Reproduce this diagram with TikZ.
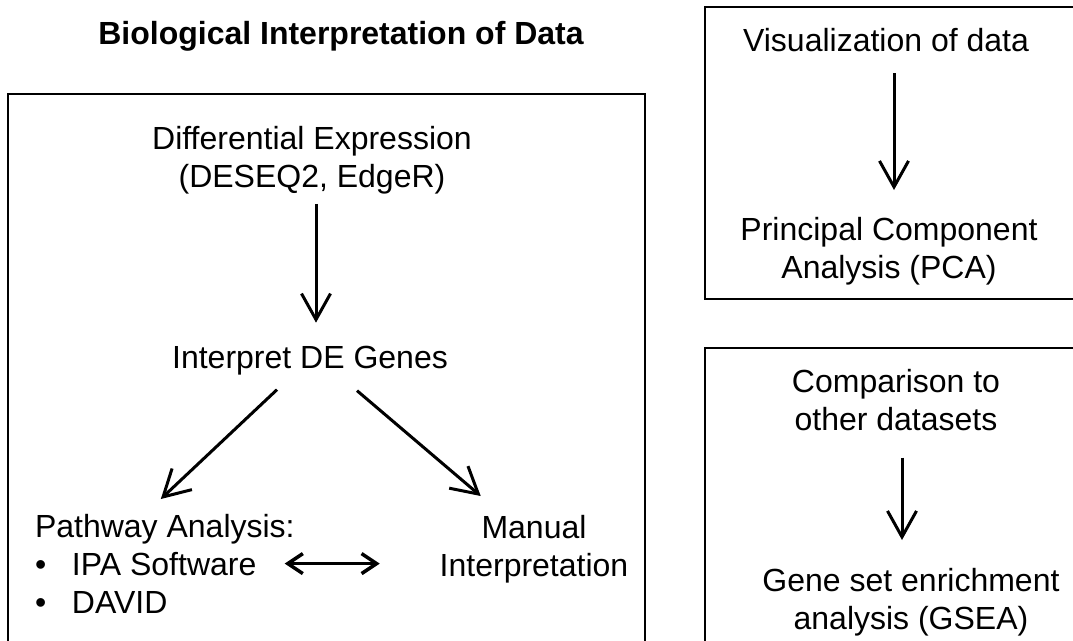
\documentclass[tikz,border=0pt]{standalone}
\usepackage{fontspec}
\setmainfont{Liberation Sans}
\usetikzlibrary{arrows.meta}
\tikzset{
  txt/.style={inner sep=0pt, outer sep=0pt, font=\fontsize{32pt}{38pt}\selectfont},
  frame/.style={draw=black, line width=2pt},
  arr/.style={draw=black, line width=3pt, -{Straight Barb[length=26pt,width=29pt]}},
  darr/.style={draw=black, line width=3.5pt, {Straight Barb[length=15pt,width=20pt]}-{Straight Barb[length=15pt,width=20pt]}}
}
\begin{document}
\begin{tikzpicture}[x=1pt,y=-1pt]
\clip (0,0) rectangle (1073,640);
\fill[white] (0,0) rectangle (1073,640);
% frames
\draw[frame] (8,94) rectangle (645,700);
\draw[frame] (705,7) rectangle (1100,299);
\draw[frame] (705,348) rectangle (1100,700);
% title
\node[txt, anchor=base, font=\fontsize{32pt}{38pt}\selectfont\bfseries] (title) at (341,44) {Biological Interpretation of Data};
% left box
\node[txt, anchor=north, align=center] (de) at (312,126) {Differential Expression\\(DESEQ2, EdgeR)};
\node[txt, anchor=base] (interp) at (310,368) {Interpret DE Genes};
\node[txt, anchor=north west, align=left] (path) at (35,514) {Pathway Analysis:\\\makebox[37pt][l]{•}IPA Software\\\makebox[37pt][l]{•}DAVID};
\node[txt, anchor=north, align=center] (manual) at (534,515) {Manual\\Interpretation};
% right boxes
\node[txt, anchor=base] (vis) at (886,51) {Visualization of data};
\node[txt, anchor=north, align=center] (pca) at (889,217) {Principal Component\\Analysis (PCA)};
\node[txt, anchor=north, align=center] (comp) at (896,369) {Comparison to\\other datasets};
\node[txt, anchor=north, align=center] (gsea) at (911,568) {Gene set enrichment\\analysis (GSEA)};
% connectors
\draw[arr] ([xshift=4pt,yshift=-10pt]de.south) -- ([xshift=6pt,yshift=23pt]interp.north);
\draw[arr] ([xshift=-33pt,yshift=-15pt]interp.south) -- ([xshift=-4pt,yshift=15pt]path.north);
\draw[arr] ([xshift=47pt,yshift=-16pt]interp.south) -- ([xshift=41pt,yshift=19pt]manual.north west);
\draw[darr] ([xshift=-10pt]path.east) -- ([xshift=-60pt]path.east -| manual.west);
\draw[arr] ([xshift=8pt,yshift=-22pt]vis.south) -- ([xshift=5pt,yshift=27pt]pca.north);
\draw[arr] ([xshift=6pt,yshift=-27pt]comp.south) -- ([xshift=-9pt,yshift=28pt]gsea.north);
\end{tikzpicture}
\end{document}
